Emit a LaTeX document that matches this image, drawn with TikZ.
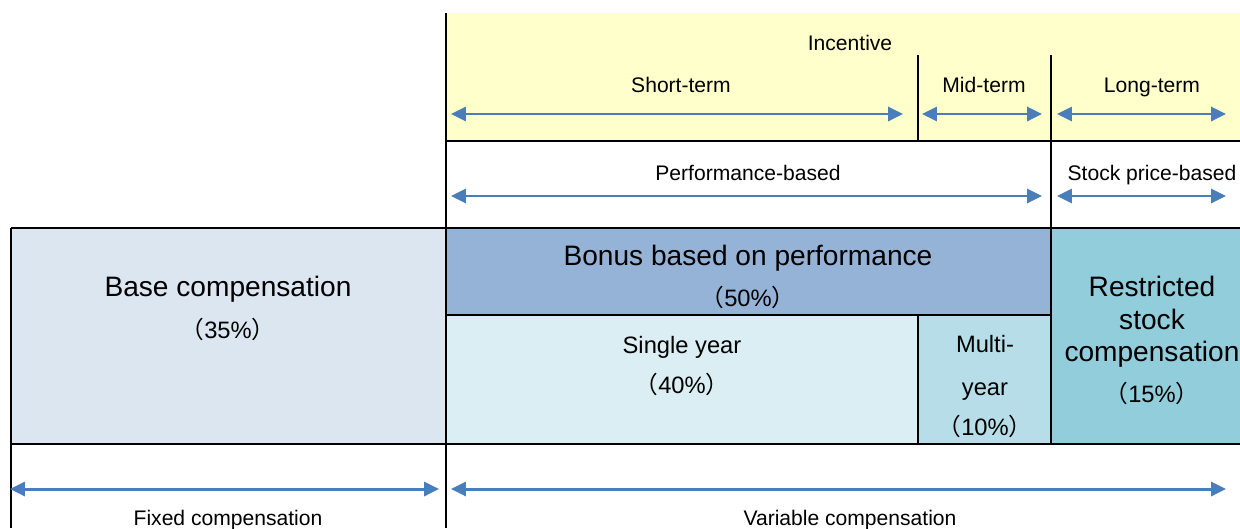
\documentclass[tikz,border=0pt]{standalone}
\usepackage{fontspec}
\setmainfont{Liberation Sans}
\newfontfamily\cjk{Noto Sans CJK JP}
\usetikzlibrary{arrows.meta}
\definecolor{incyellow}{HTML}{FFFFCC}
\definecolor{basefill}{HTML}{DCE6F1}
\definecolor{bonusfill}{HTML}{95B3D7}
\definecolor{singlefill}{HTML}{DAEEF3}
\definecolor{multifill}{HTML}{B7DEE8}
\definecolor{stockfill}{HTML}{92CDDC}
\definecolor{arrblue}{HTML}{4A7EBB}
\newcommand{\pcent}[1]{{\cjk （}#1{\cjk ）}}
\tikzset{
  arr/.style={draw=arrblue, line width=1.7pt,
    {Triangle[length=8.5pt,width=8pt]}-{Triangle[length=8.5pt,width=8pt]}},
  rule/.style={line width=1.1pt},
  small/.style={font=\fontsize{12}{14}\selectfont, inner sep=0pt, anchor=base},
  mid/.style={font=\fontsize{13.5}{16}\selectfont, inner sep=0pt, anchor=base},
  big/.style={font=\fontsize{16}{19}\selectfont, inner sep=0pt, anchor=base},
}

\begin{document}
\begin{tikzpicture}[x=0.02cm, y=-0.02cm]
  \clip (0,0) rectangle (1240,528);

  % Incentive band (top)
  \fill[incyellow] (446,13) rectangle (1240,141);
  \node[small] (incentive) at (850,50) {Incentive};
  \node[small] (short) at (681,92.5) {Short-term};
  \node[small] (midterm) at (984,92.5) {Mid-term};
  \node[small] (long) at (1152,92.5) {Long-term};
  \coordinate (s1) at (451,114); \coordinate (s2) at (903,114);
  \coordinate (m1) at (922,114); \coordinate (m2) at (1042,114);
  \coordinate (l1) at (1057,114); \coordinate (l2) at (1226,114);
  \draw[arr] (s1) -- (s2);
  \draw[arr] (m1) -- (m2);
  \draw[arr] (l1) -- (l2);

  % Performance / stock price row
  \node[small] (perf) at (748,180) {Performance-based};
  \node[small] (stockprice) at (1152,180) {Stock price-based};
  \coordinate (p1) at (451,196); \coordinate (p2) at (1042,196);
  \coordinate (q1) at (1057,196); \coordinate (q2) at (1226,196);
  \draw[arr] (p1) -- (p2);
  \draw[arr] (q1) -- (q2);

  % Compensation boxes
  \fill[basefill] (11,228) rectangle (446,444);
  \fill[bonusfill] (446,228) rectangle (1051,315);
  \fill[singlefill] (446,315) rectangle (918,444);
  \fill[multifill] (918,315) rectangle (1051,444);
  \fill[stockfill] (1051,228) rectangle (1240,444);

  \node[big] (base) at (228,296.5) {Base compensation};
  \node[mid] (basepct) at (228,338) {\pcent{35\%}};
  \node[big] (bonus) at (748,265) {Bonus based on performance};
  \node[mid] (bonuspct) at (748,306.5) {\pcent{50\%}};
  \node[mid] (single) at (682,353) {Single year};
  \node[mid] (singlepct) at (682,393) {\pcent{40\%}};
  \node[mid] (multi) at (985,352) {Multi-};
  \node[mid] (multiyr) at (985,395.5) {year};
  \node[mid] (multipct) at (985,435) {\pcent{10\%}};
  \node[big] (rs1) at (1152,296) {Restricted};
  \node[big] (rs2) at (1152,329) {stock};
  \node[big] (rs3) at (1152,361.5) {compensation};
  \node[mid] (rspct) at (1152,402.5) {\pcent{15\%}};

  % Rules
  \draw[rule] (446,13) -- (446,528);
  \draw[rule] (11,228) -- (11,528);
  \draw[rule] (918,55) -- (918,141);
  \draw[rule] (918,315) -- (918,444);
  \draw[rule] (1051,55) -- (1051,444);
  \draw[rule] (446,141) -- (1240,141);
  \draw[rule] (11,228) -- (1240,228);
  \draw[rule] (446,315) -- (1051,315);
  \draw[rule] (11,444) -- (1240,444);

  % Fixed / variable (bottom)
  \coordinate (f1) at (10,489); \coordinate (f2) at (439,489);
  \coordinate (v1) at (451,489); \coordinate (v2) at (1226,489);
  \draw[arr] (f1) -- (f2);
  \draw[arr] (v1) -- (v2);
  \node[small] (fixed) at (228,525) {Fixed compensation};
  \node[small] (variable) at (850,525) {Variable compensation};
\end{tikzpicture}
\end{document}
